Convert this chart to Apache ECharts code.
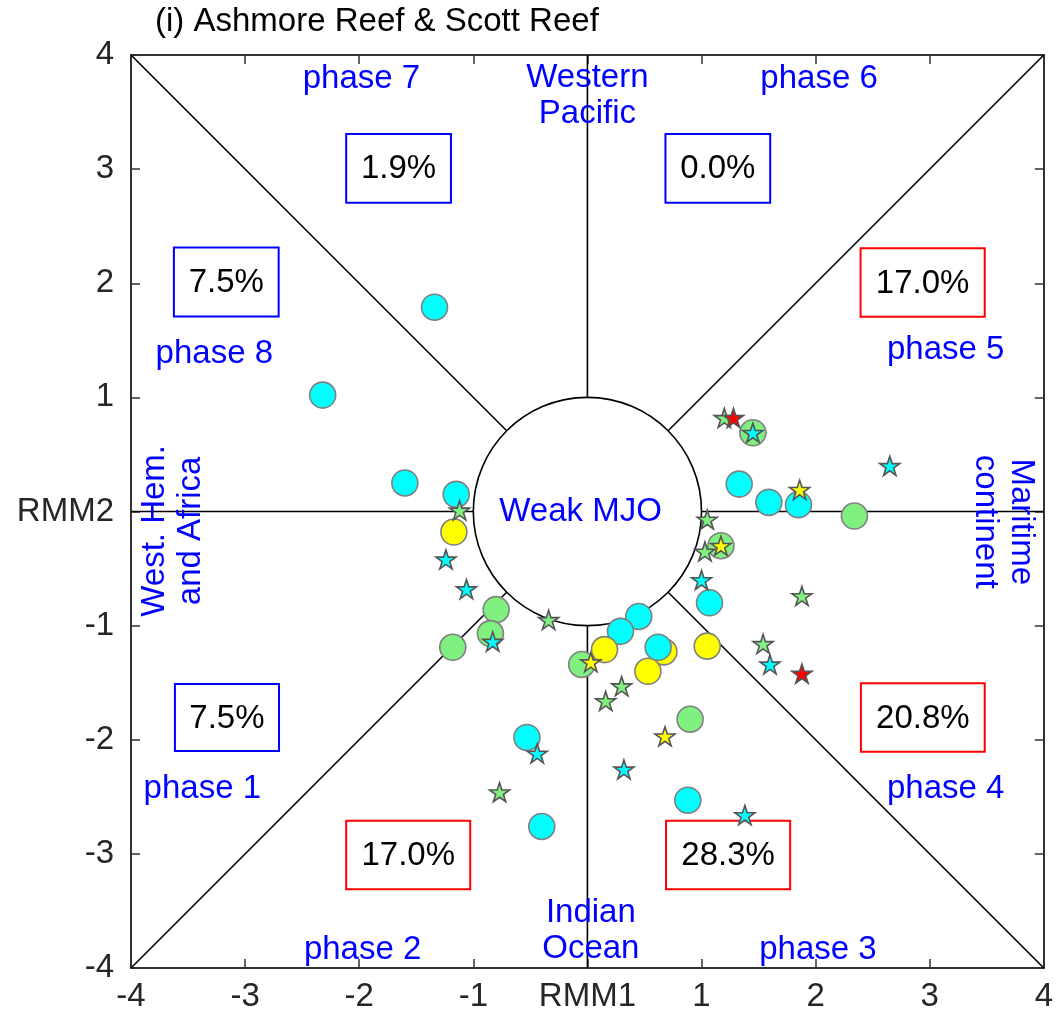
<!DOCTYPE html>
<html><head><meta charset="utf-8">
<script src="https://cdn.jsdelivr.net/npm/echarts@6/dist/echarts.min.js"></script>
<style>html,body{margin:0;padding:0;background:#fff}#c{width:1056px;height:1023px}</style>
</head><body><div id="c"></div>
<script>
// ---------- text / data ----------
const title = '(i) Ashmore Reef & Scott Reef';
const xTickLabels = ['-4','-3','-2','-1','RMM1','1','2','3','4'];
const yTickLabels = ['-4','-3','-2','-1','RMM2','1','2','3','4'];
const phaseNames = ['phase 1','phase 2','phase 3','phase 4','phase 5','phase 6','phase 7','phase 8'];
const phasePct = ['7.5%','17.0%','28.3%','20.8%','17.0%','0.0%','1.9%','7.5%'];
const regionNames = ['West. Hem.\nand Africa','Indian\nOcean','Maritime\ncontinent','Western\nPacific'];
const centreLabel = 'Weak MJO';

// markers, listed in drawing order
const greenCircles = [[1.45,0.69],[2.34,-0.04],[1.17,-0.30],[-0.80,-0.86],[-0.85,-1.07],[-1.18,-1.19],[-0.05,-1.34],[0.90,-1.82]];
const yellowCirclesA = [[0.67,-1.23]];
const cyanCircles = [[-1.34,1.79],[-2.32,1.02],[-1.60,0.25],[-1.15,0.15],[1.33,0.24],[1.59,0.08],[1.85,0.06],[1.07,-0.80],[0.45,-0.92],[0.29,-1.05],[0.62,-1.19],[-0.53,-1.98],[-0.40,-2.76],[0.88,-2.53]];
const yellowCirclesB = [[-1.17,-0.18],[0.15,-1.21],[0.53,-1.40],[1.05,-1.18]];
const greenStars = [[-1.12,0.01],[-0.34,-0.95],[1.20,0.82],[1.05,-0.07],[1.03,-0.35],[1.88,-0.74],[1.54,-1.16],[0.30,-1.53],[0.16,-1.66],[-0.77,-2.46]];
const cyanStars = [[-1.24,-0.42],[-1.06,-0.68],[-0.83,-1.14],[1.45,0.69],[2.65,0.40],[1.00,-0.60],[1.60,-1.34],[-0.44,-2.12],[0.32,-2.26],[1.38,-2.66]];
const yellowStars = [[1.86,0.19],[1.17,-0.30],[0.03,-1.32],[0.68,-1.97]];
const redStars = [[1.28,0.82],[1.88,-1.42]];

// ---------- layout (data-space positions of annotations) ----------
const layout = {
  boxes: [[-3.615,-1.512,-2.703,-2.099],[-2.114,-2.709,-1.027,-3.310],[0.689,-2.709,1.777,-3.310],[2.397,-1.506,3.482,-2.105],
          [2.394,2.306,3.482,1.707],[0.684,3.308,1.602,2.706],[-2.114,3.308,-1.196,2.706],[-3.624,2.313,-2.706,1.709]],
  boxColors: ['#0000FF','#FF0000','#FF0000','#FF0000','#FF0000','#0000FF','#0000FF','#0000FF'],
  phaseLabels: [[-3.375,-2.43],[-1.97,-3.84],[2.02,-3.84],[3.14,-2.43],[3.14,1.42],[2.03,3.79],[-1.98,3.79],[-3.27,1.38]],
  regionLabels: [[-3.633,-0.17,Math.PI/2],[0.03,-3.676,0],[3.646,-0.09,-Math.PI/2],[0,3.641,0]],
  centre: [-0.06,0],
  lines: [[[-4,-4],[4,4]],[[-4,4],[4,-4]],[[-4,0],[4,0]],[[0,-4],[0,4]]]
};

const FONT = '"Liberation Sans", Arial, Helvetica, sans-serif';
const FS = 33;
const STAR = 'path://M50,0L61.2,34.5L97.6,34.5L68.2,55.9L79.4,90.5L50,69.1L20.6,90.5L31.8,55.9L2.4,34.5L38.8,34.5Z';

const chart = echarts.init(document.getElementById('c'), null, {renderer:'canvas'});

function structure(params, api) {
  const children = [];
  layout.lines.forEach(seg => {
    const a = api.coord(seg[0]), b = api.coord(seg[1]);
    children.push({type:'line', shape:{x1:a[0],y1:a[1],x2:b[0],y2:b[1]}, style:{stroke:'#000', lineWidth:1.6}});
  });
  const c = api.coord([0,0]);
  const r = api.size([1,1]);
  children.push({type:'ellipse', shape:{cx:c[0],cy:c[1],rx:r[0],ry:r[1]}, style:{fill:'#fff', stroke:'#000', lineWidth:1.6}});
  const cl = api.coord(layout.centre);
  children.push({type:'text', x:cl[0], y:cl[1], style:{text:centreLabel, fill:'#0000FF', fontSize:FS, fontFamily:FONT, align:'center', verticalAlign:'middle'}});
  layout.boxes.forEach((b,i) => {
    const p0 = api.coord([b[0],b[1]]), p1 = api.coord([b[2],b[3]]);
    children.push({type:'rect', shape:{x:p0[0],y:p0[1],width:p1[0]-p0[0],height:p1[1]-p0[1]}, style:{fill:'#fff', stroke:layout.boxColors[i], lineWidth:2}});
    children.push({type:'text', x:(p0[0]+p1[0])/2, y:(p0[1]+p1[1])/2+1, style:{text:phasePct[i], fill:'#000', fontSize:FS, fontFamily:FONT, align:'center', verticalAlign:'middle'}});
  });
  layout.phaseLabels.forEach((p,i) => {
    const q = api.coord(p);
    children.push({type:'text', x:q[0], y:q[1], style:{text:phaseNames[i], fill:'#0000FF', fontSize:FS, fontFamily:FONT, align:'center', verticalAlign:'middle'}});
  });
  layout.regionLabels.forEach((p,i) => {
    const q = api.coord([p[0],p[1]]);
    children.push({type:'text', x:q[0], y:q[1], rotation:p[2], style:{text:regionNames[i], fill:'#0000FF', fontSize:FS, fontFamily:FONT, align:'center', verticalAlign:'middle', lineHeight:36}});
  });
  return {type:'group', children};
}

function scatter(data, symbol, size, color, border) {
  return {type:'scatter', data, symbol, symbolSize:size, symbolKeepAspect:true, z:3, silent:true,
          itemStyle:{color, borderColor:border, borderWidth:1.6, opacity:1}};
}

const axisCommon = {
  type:'value', min:-4, max:4, interval:1,
  axisLine:{show:true, onZero:false, lineStyle:{color:'#333', width:2}},
  axisTick:{show:true, inside:true, length:9, lineStyle:{color:'#333', width:1.5}},
  splitLine:{show:false}
};

chart.setOption({
  animation:false,
  backgroundColor:'#fff',
  graphic:[{type:'text', x:155, y:21.5, style:{text:title, fill:'#000', fontSize:FS, fontFamily:FONT, verticalAlign:'middle'}}],
  grid:{left:131, right:10, top:55, bottom:55, containLabel:false},
  xAxis:[
    Object.assign({}, axisCommon, {position:'bottom', axisLabel:{show:true, margin:12, fontSize:FS, fontFamily:FONT, color:'#262626', showMinLabel:true, showMaxLabel:true, formatter:v=>xTickLabels[Math.round(v)+4]}}),
    Object.assign({}, axisCommon, {position:'top', axisLabel:{show:false}})
  ],
  yAxis:[
    Object.assign({}, axisCommon, {position:'left', axisLabel:{show:true, margin:17, fontSize:FS, fontFamily:FONT, color:'#262626', showMinLabel:true, showMaxLabel:true, formatter:v=>yTickLabels[Math.round(v)+4]}}),
    Object.assign({}, axisCommon, {position:'right', axisLabel:{show:false}})
  ],
  series:[
    {type:'custom', renderItem:structure, data:[[0,0]], z:1, silent:true, clip:false},
    scatter(greenCircles,'circle',26,'#80F080','#808080'),
    scatter(yellowCirclesA,'circle',26,'#FFFF00','#808080'),
    scatter(cyanCircles,'circle',26,'#00FFFF','#808080'),
    scatter(yellowCirclesB,'circle',26,'#FFFF00','#808080'),
    scatter(greenStars,STAR,20,'#80F080','#555555'),
    scatter(cyanStars,STAR,20,'#00FFFF','#555555'),
    scatter(yellowStars,STAR,20,'#FFFF00','#555555'),
    scatter(redStars,STAR,20,'#FF0000','#555555')
  ]
});
</script></body></html>
